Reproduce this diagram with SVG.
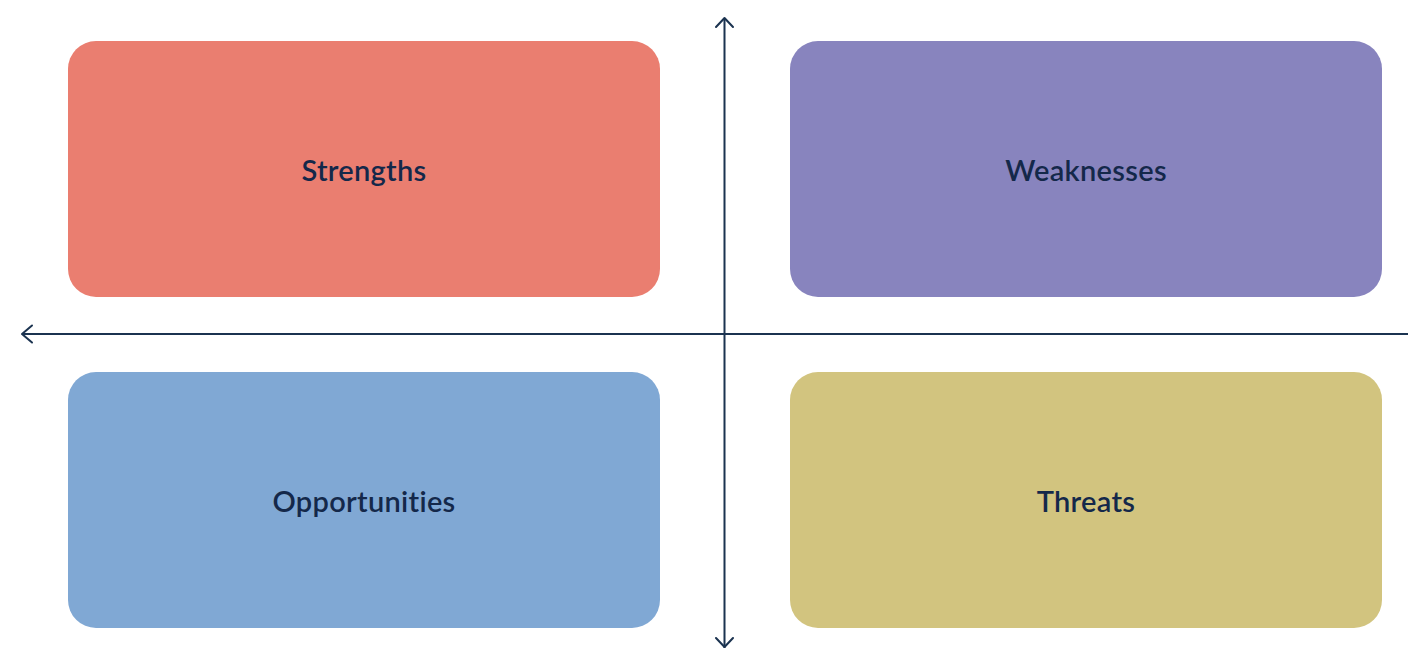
<svg xmlns="http://www.w3.org/2000/svg" width="1408" height="648" viewBox="0 0 1408 648">
<style>
.box{stroke:none}
.lbl{font-family:"Lato","Liberation Sans",sans-serif;font-size:29px;font-weight:600;fill:#14284A;text-anchor:middle;font-variant-ligatures:none;letter-spacing:0.3px}
.ax{stroke:#1B3350;stroke-width:2;fill:none}
.ah{stroke:#1B3350;stroke-width:2;fill:none;stroke-linecap:round;stroke-linejoin:round}
</style>
<rect width="1408" height="648" fill="#ffffff"/>
<g id="connectors">
<line class="ax" x1="724.5" y1="18" x2="724.5" y2="648"/>
<polyline class="ah" points="716,27 724.5,18 733,27"/>
<polyline class="ah" points="716,638 724.5,647 733,638"/>
<line class="ax" x1="22" y1="334" x2="1408" y2="334"/>
<polyline class="ah" points="32,325.5 22,334 32,342.5"/>
</g>
<g id="strengths">
<rect class="box" x="68" y="41" width="592" height="256" rx="28" fill="#EA7E70"/>
<text class="lbl" x="364" y="181">Strengths</text>
</g>
<g id="weaknesses">
<rect class="box" x="790" y="41" width="592" height="256" rx="28" fill="#8884BE"/>
<text class="lbl" x="1086" y="181">Weaknesses</text>
</g>
<g id="opportunities">
<rect class="box" x="68" y="372" width="592" height="256" rx="28" fill="#80A8D4"/>
<text class="lbl" x="364" y="512">Opportunities</text>
</g>
<g id="threats">
<rect class="box" x="790" y="372" width="592" height="256" rx="28" fill="#D2C47F"/>
<text class="lbl" x="1086" y="512">Threats</text>
</g>
</svg>
